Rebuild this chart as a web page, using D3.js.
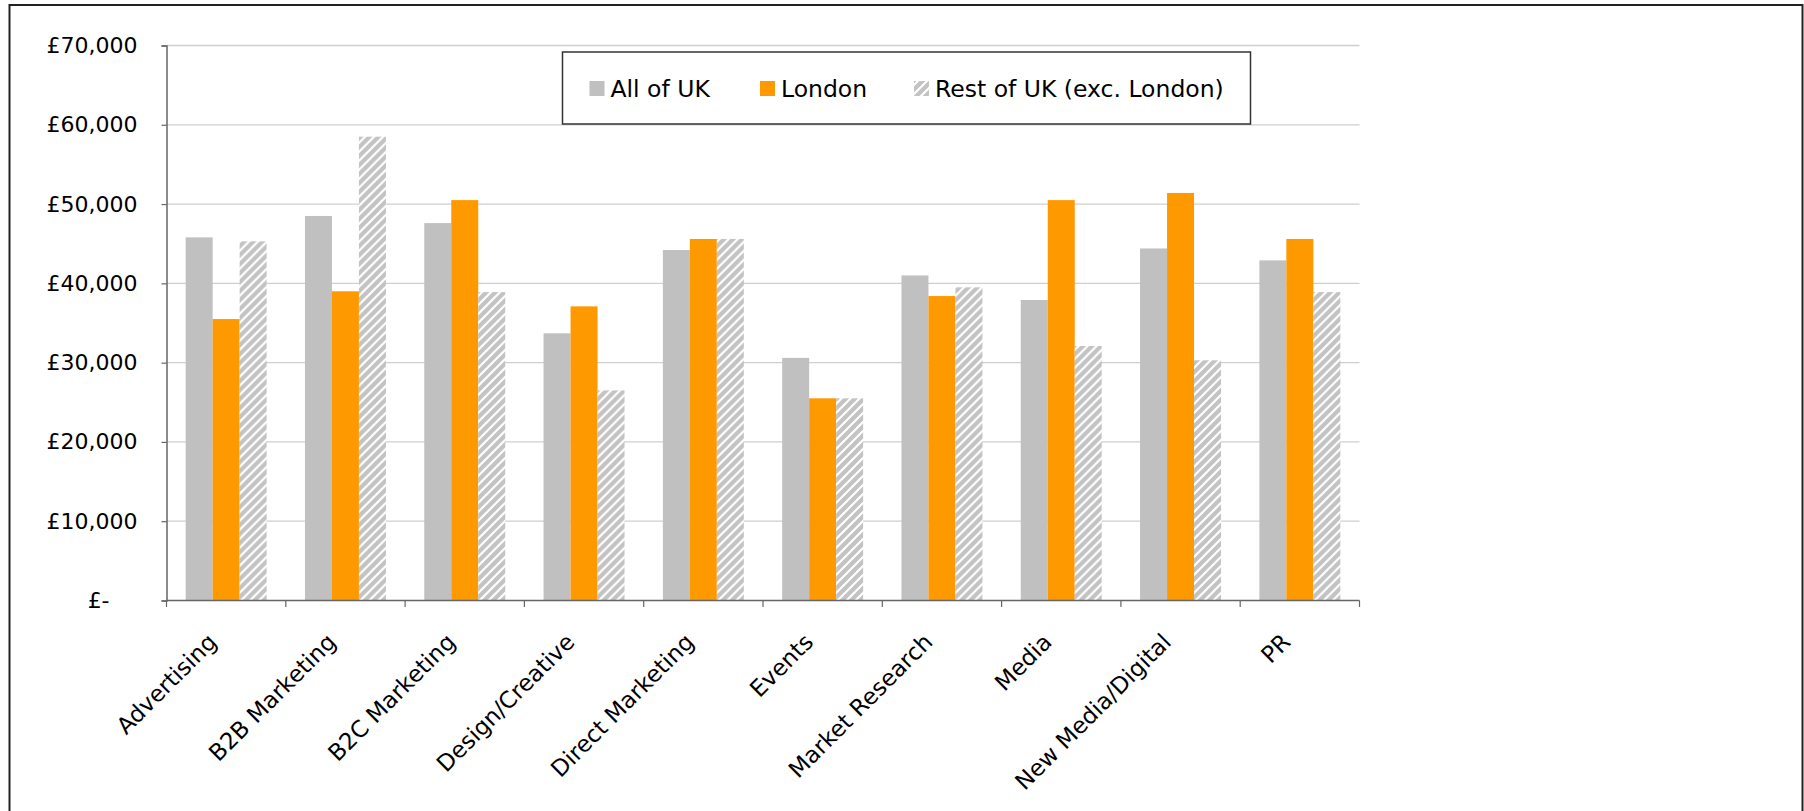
<!DOCTYPE html>
<html>
<head>
<meta charset="utf-8">
<script src="https://cdn.jsdelivr.net/npm/d3@7"></script>
<style>
  html, body { margin: 0; padding: 0; background: #fff; }
  svg { display: block; font-family: "DejaVu Sans", Verdana, sans-serif; }
</style>
</head>
<body>
<svg id="chart" width="1804" height="811"></svg>
<script>
const categories = ["Advertising", "B2B Marketing", "B2C Marketing", "Design/Creative", "Direct Marketing", "Events", "Market Research", "Media", "New Media/Digital", "PR"];
const allUK  = [45800, 48500, 47600, 33700, 44200, 30600, 41000, 37900, 44400, 42900];
const london = [35500, 39000, 50500, 37100, 45600, 25500, 38400, 50500, 51400, 45600];
const restUK = [45300, 58500, 38900, 26500, 45600, 25500, 39500, 32100, 30300, 38900];
const seriesNames = ["All of UK", "London", "Rest of UK (exc. London)"];
const yTicks = [0, 10000, 20000, 30000, 40000, 50000, 60000, 70000];

const seriesValues = [allUK, london, restUK];
const fills = ["#c0c0c0", "#ff9900", "url(#hatch)"];

const svg = d3.select("#chart");
const plot = { left: 166.5, right: 1359.5, top: 45.5, bottom: 600.5 };

// hatch pattern (wide upward diagonal)
const defs = svg.append("defs");
const pat = defs.append("pattern").attr("id", "hatch")
  .attr("patternUnits", "userSpaceOnUse").attr("width", 9).attr("height", 9);
pat.append("rect").attr("width", 9).attr("height", 9).attr("fill", "#c3c3c3");
pat.append("path").attr("d", "M-2.25,2.25 L2.25,-2.25 M0,9 L9,0 M6.75,11.25 L11.25,6.75")
  .attr("stroke", "#ffffff").attr("stroke-width", 2.2);

// outer border
svg.append("rect").attr("x", 9.5).attr("y", 5).attr("width", 1793).attr("height", 900)
  .attr("fill", "#fff").attr("stroke", "#222").attr("stroke-width", 2);

const x0 = d3.scaleBand().domain(categories).range([plot.left, plot.right]).padding(0);
const x1 = d3.scaleBand().domain(seriesNames).range([0, x0.bandwidth()]).paddingInner(0).paddingOuter(0.71);
const y = d3.scaleLinear().domain([0, 70000]).range([plot.bottom, plot.top]);

// gridlines
svg.append("g").selectAll("line").data(yTicks.filter(d => d > 0)).join("line")
  .attr("x1", plot.left).attr("x2", plot.right)
  .attr("y1", d => y(d)).attr("y2", d => y(d))
  .attr("stroke", "#cfcfcf").attr("stroke-width", 1.3);

// bars
const groups = svg.append("g").selectAll("g").data(categories).join("g")
  .attr("transform", c => `translate(${x0(c)},0)`);
groups.selectAll("rect").data((c, i) => seriesNames.map((s, j) => ({ s, j, v: seriesValues[j][i] })))
  .join("rect")
  .attr("x", d => x1(d.s))
  .attr("width", x1.bandwidth())
  .attr("y", d => y(d.v))
  .attr("height", d => y(0) - y(d.v))
  .attr("fill", d => fills[d.j]);

// y axis
const yAxis = d3.axisLeft(y).tickValues(yTicks).tickSize(5).tickPadding(24)
  .tickFormat(d => d === 0 ? "£-" : "£" + d3.format(",")(d));
const ya = svg.append("g").attr("transform", `translate(${plot.left},0)`).call(yAxis);
ya.select(".domain").attr("stroke", "#666").attr("stroke-width", 1.5);
ya.selectAll(".tick line").attr("stroke", "#666").attr("stroke-width", 1.2);
ya.selectAll(".tick text").attr("font-size", 22).attr("fill", "#000")
  .attr("font-family", "DejaVu Sans, Verdana, sans-serif")
  .attr("dx", d => d === 0 ? "-1.27em" : 0);

// x axis
const xa = svg.append("g");
xa.append("line").attr("x1", plot.left).attr("x2", plot.right)
  .attr("y1", plot.bottom).attr("y2", plot.bottom)
  .attr("stroke", "#666").attr("stroke-width", 1.5);
const bounds = categories.map(c => x0(c)).concat([x0(categories[categories.length - 1]) + x0.bandwidth()]);
xa.selectAll("line.tk").data(bounds).join("line").attr("class", "tk")
  .attr("x1", d => d).attr("x2", d => d)
  .attr("y1", plot.bottom).attr("y2", plot.bottom + 6.5)
  .attr("stroke", "#666").attr("stroke-width", 1.2);
xa.selectAll("text").data(categories).join("text")
  .attr("transform", c => {
    const cx = x0(c) + x0.bandwidth() / 2 - 8;
    return `translate(${cx},${plot.bottom + 43}) rotate(-45)`;
  })
  .attr("text-anchor", "end")
  .attr("font-size", 23)
  .attr("fill", "#000")
  .text(c => c);

// legend
const lg = svg.append("g");
lg.append("rect").attr("x", 562.5).attr("y", 52).attr("width", 688).attr("height", 72)
  .attr("fill", "#fff").attr("stroke", "#333").attr("stroke-width", 1.5);
const legendX = [589.5, 760, 914];
seriesNames.forEach((s, j) => {
  lg.append("rect").attr("x", legendX[j]).attr("y", 81).attr("width", 15).attr("height", 15)
    .attr("fill", fills[j]);
  lg.append("text").attr("x", legendX[j] + 21).attr("y", 96.5)
    .attr("font-size", 23.5).attr("fill", "#000").text(s);
});
</script>
</body>
</html>
